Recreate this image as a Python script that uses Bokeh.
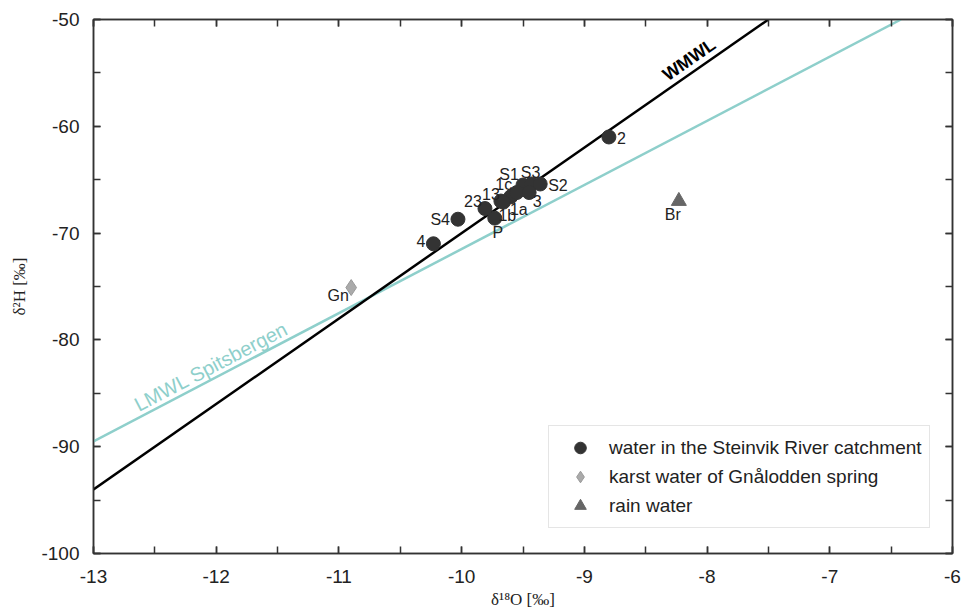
from bokeh.plotting import figure
from bokeh.models import (LinearAxis, Range1d, SingleIntervalTicker, Legend,
                          LegendItem, ColumnDataSource, PrintfTickFormatter,
                          CustomLabelingPolicy)
from bokeh.core.properties import value
from bokeh.embed import file_html
from bokeh.resources import INLINE

# ---- data ----
sample_names = ["2", "S1", "S3", "S2", "1c", "1a", "3", "13", "1b", "23", "P", "S4", "4"]
sample_d18o = [-8.80, -9.50, -9.43, -9.36, -9.60, -9.55, -9.45, -9.68, -9.66, -9.81, -9.73, -10.03, -10.23]
sample_d2h = [-61.0, -65.5, -65.4, -65.4, -66.6, -66.2, -66.2, -67.0, -67.1, -67.7, -68.6, -68.7, -71.0]

karst_name = ["Gn"]
karst_d18o = [-10.90]
karst_d2h = [-75.1]

rain_name = ["Br"]
rain_d18o = [-8.23]
rain_d2h = [-67.0]

wmwl_d18o = [-13.0, -7.5]
wmwl_d2h = [-94.0, -50.0]
lmwl_d18o = [-13.0, -6.42]
lmwl_d2h = [-89.5, -50.0]

x_ticks_interval = 1
y_ticks_interval = 10

# ---- label placement (styling, screen px) ----
sample_dx = [8, -14, -1, 8, -7, 2, 8, -10, 4, -12, 3, -8, -8]
sample_dy = [1, -11, -11, 2, -12, 17, 8, -7, 13, -8, 14, 0, -3]
sample_align = ["left", "center", "center", "left", "center", "center", "center",
                "center", "center", "center", "center", "right", "right"]

FONT = "Liberation Sans"
SERIF = "Liberation Serif"

p = figure(width=961, height=612,
           x_range=Range1d(-13, -6), y_range=Range1d(-100, -50),
           output_backend="svg", toolbar_location=None,
           min_border_left=93, min_border_right=9, min_border_top=19, min_border_bottom=59)

p.xgrid.visible = False
p.ygrid.visible = False
p.outline_line_color = "#333333"
p.outline_line_width = 1.5
p.background_fill_color = "white"
p.border_fill_color = "white"

xt = SingleIntervalTicker(interval=x_ticks_interval, num_minor_ticks=2)
yt = SingleIntervalTicker(interval=y_ticks_interval, num_minor_ticks=2)

bottom = p.below[0]
left = p.left[0]
bottom.ticker = xt
left.ticker = yt
bottom.formatter = PrintfTickFormatter(format="%d")
left.formatter = PrintfTickFormatter(format="%d")
top = LinearAxis(ticker=xt)
right = LinearAxis(ticker=yt)
p.add_layout(top, "above")
p.add_layout(right, "right")

for ax in (bottom, left, top, right):
    ax.major_tick_in = 7
    ax.major_tick_out = 0
    ax.minor_tick_in = 7
    ax.minor_tick_out = 0
    ax.axis_line_color = "#333333"
    ax.axis_line_width = 1.5
    ax.major_tick_line_color = "#333333"
    ax.minor_tick_line_color = "#333333"
    ax.major_tick_line_width = 1.5
    ax.minor_tick_line_width = 1.5
    ax.major_label_text_font = FONT
    ax.major_label_text_font_size = "19px"
    ax.major_label_text_color = "#222222"

for ax in (top, right):
    ax.major_label_policy = CustomLabelingPolicy(code="return []")
    ax.major_label_text_font_size = "1px"
    ax.major_label_standoff = 0

bottom.major_label_standoff = 16
left.major_label_standoff = 14
bottom.axis_label = "δ¹⁸O [‰]"
left.axis_label = "δ²H [‰]"
for ax in (bottom, left):
    ax.axis_label_text_font = SERIF
    ax.axis_label_text_font_size = "17px"
    ax.axis_label_text_font_style = "normal"
    ax.axis_label_text_color = "#222222"
bottom.axis_label_standoff = 4
left.axis_label_standoff = 9

# ---- lines ----
p.line(lmwl_d18o, lmwl_d2h, line_color="#8ecfcb", line_width=2.5)
p.line(wmwl_d18o, wmwl_d2h, line_color="#000000", line_width=2.5)

p.text(x=[-12.0], y=[-83.5], text=["LMWL Spitsbergen"], angle=0.4813,
       text_align="center", text_baseline="bottom", y_offset=-1,
       text_font=value(FONT), text_font_size="20px", text_color="#8ecfcb")
p.text(x=[-8.10], y=[-54.8], text=["WMWL"], angle=0.608,
       text_align="center", text_baseline="bottom", y_offset=-3,
       text_font=value(FONT), text_font_size="18px", text_font_style="bold",
       text_color="#000000")

# ---- points ----
src = ColumnDataSource(dict(x=sample_d18o, y=sample_d2h, name=sample_names,
                            dx=sample_dx, dy=sample_dy, align=sample_align))
r_samples = p.scatter("x", "y", source=src, marker="circle", size=14,
                      fill_color="#333333", line_color="#333333")
p.text("x", "y", text="name", source=src, x_offset="dx", y_offset="dy",
       text_align="align", text_baseline="middle",
       text_font=value(FONT), text_font_size="16px", text_color="#222222")

r_karst = p.scatter(karst_d18o, karst_d2h, marker="diamond", size=16,
                    fill_color="#aaaaaa", line_color="#9a9a9a")
p.text(karst_d18o, karst_d2h, text=karst_name, x_offset=-13, y_offset=8,
       text_align="center", text_baseline="middle",
       text_font=value(FONT), text_font_size="16px", text_color="#222222")

r_rain = p.scatter(rain_d18o, rain_d2h, marker="triangle", size=15,
                   fill_color="#666666", line_color="#666666")
p.text(rain_d18o, rain_d2h, text=rain_name, x_offset=-6, y_offset=13,
       text_align="center", text_baseline="middle",
       text_font=value(FONT), text_font_size="16px", text_color="#222222")

legend = Legend(items=[
    LegendItem(label="water in the Steinvik River catchment", renderers=[r_samples]),
    LegendItem(label="karst water of Gnålodden spring", renderers=[r_karst]),
    LegendItem(label="rain water", renderers=[r_rain]),
], location=(455, 25))
legend.padding = 7
legend.spacing = 0
legend.glyph_width = 48
legend.glyph_height = 29
legend.label_standoff = 5
legend.label_text_font = FONT
legend.label_text_font_size = "19px"
legend.label_text_color = "#222222"
legend.border_line_color = "#cccccc"
legend.border_line_width = 1.5
legend.background_fill_alpha = 1.0
legend.margin = 0
p.add_layout(legend, "center")

open("out.html", "w").write(file_html(p, INLINE))
